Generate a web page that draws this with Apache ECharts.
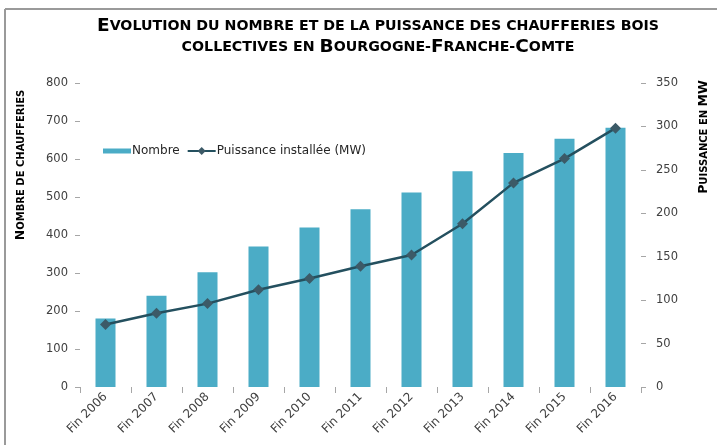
<!DOCTYPE html>
<html>
<head>
<meta charset="utf-8">
<script src="https://cdn.jsdelivr.net/npm/echarts@6/dist/echarts.min.js"></script>
<style>
    html, body { margin: 0; padding: 0; background: #fff; }
    #chart { width: 717px; height: 445px; }
</style>
</head>
<body>
<div id="chart"></div>
<script>
var categories = ["Fin 2006", "Fin 2007", "Fin 2008", "Fin 2009", "Fin 2010", "Fin 2011", "Fin 2012", "Fin 2013", "Fin 2014", "Fin 2015", "Fin 2016"];
var nombre = [180, 240, 302, 370, 420, 468, 512, 568, 616, 653, 682];
var puissance = [72, 85, 96, 112, 125, 139, 152, 188, 235, 263, 298];

var leftTicks = { min: 0, max: 800, interval: 100 };
var rightTicks = { min: 0, max: 350, interval: 50 };

var font = "'DejaVu Sans', 'Liberation Sans', Arial, sans-serif";

// small caps, built from rich text: {b|} = capital, {s|} = small
var titleRich = {
    b: { fontFamily: font, fontWeight: "bold", fontSize: 18.5, lineHeight: 21, color: "#1a1a1a" },
    s: { fontFamily: font, fontWeight: "bold", fontSize: 14.2, lineHeight: 21, color: "#1a1a1a" }
};
var nameRich = {
    b: { fontFamily: font, fontWeight: "bold", fontSize: 12.5, color: "#1a1a1a" },
    s: { fontFamily: font, fontWeight: "bold", fontSize: 10, color: "#1a1a1a" }
};

var chart = echarts.init(document.getElementById("chart"));

var option = {
    animation: false,
    backgroundColor: "#fff",
    textStyle: { fontFamily: font },
    grid: { left: 80, right: 76, top: 83, bottom: 58 },
    legend: {
        left: 98,
        top: 140,
        itemGap: 7,
        itemWidth: 28,
        itemHeight: 10,
        textStyle: { fontFamily: font, fontSize: 12, color: "#262626", padding: [0, 0, 0, -4] },
        data: [
            { name: "Nombre", icon: "path://M0,0L28,0L28,5L0,5Z" },
            { name: "Puissance installée (MW)" }
        ]
    },
    xAxis: {
        type: "category",
        data: categories,
        axisLine: { show: false },
        axisTick: { show: true, length: 6, lineStyle: { color: "#a6a6a6" } },
        axisLabel: { rotate: 45, margin: 8, fontSize: 12, color: "#404040", interval: 0 }
    },
    yAxis: [
        {
            type: "value",
            min: leftTicks.min, max: leftTicks.max, interval: leftTicks.interval,
            splitLine: { show: false },
            axisLine: { show: false },
            axisTick: { show: true, length: 5, lineStyle: { color: "#a6a6a6" } },
            axisLabel: { margin: 12, fontSize: 11.5, color: "#404040" }
        },
        {
            type: "value",
            position: "right",
            min: rightTicks.min, max: rightTicks.max, interval: rightTicks.interval,
            splitLine: { show: false },
            axisLine: { show: false },
            axisTick: { show: true, length: 5, lineStyle: { color: "#a6a6a6" } },
            axisLabel: { margin: 15, fontSize: 11.5, color: "#404040" }
        }
    ],
    series: [
        {
            name: "Nombre",
            type: "bar",
            yAxisIndex: 0,
            barWidth: 20,
            itemStyle: { color: "#4bacc6" },
            data: nombre
        },
        {
            name: "Puissance installée (MW)",
            type: "line",
            yAxisIndex: 1,
            symbol: "diamond",
            symbolSize: 11,
            lineStyle: { color: "#24505f", width: 2.5 },
            itemStyle: { color: "#3c5a67" },
            data: puissance
        }
    ],
    graphic: [
        // frame
        { type: "line", shape: { x1: 5, y1: 9, x2: 717, y2: 9 }, style: { stroke: "#9a9a9a", lineWidth: 2 } },
        { type: "line", shape: { x1: 5, y1: 9, x2: 5, y2: 445 }, style: { stroke: "#9a9a9a", lineWidth: 2 } },
        {
            type: "text",
            x: 378, y: 37,
            style: {
                text: "{b|E}{s|VOLUTION DU NOMBRE ET DE LA PUISSANCE DES CHAUFFERIES BOIS}\n{s|COLLECTIVES EN }{b|B}{s|OURGOGNE-}{b|F}{s|RANCHE-}{b|C}{s|OMTE}",
                align: "center",
                verticalAlign: "middle",
                rich: titleRich
            }
        },
        {
            type: "text",
            x: 21, y: 165,
            rotation: Math.PI / 2,
            style: {
                text: "{b|N}{s|OMBRE DE CHAUFFERIES}",
                align: "center",
                verticalAlign: "middle",
                rich: nameRich
            }
        },
        {
            type: "text",
            x: 704, y: 137,
            rotation: Math.PI / 2,
            style: {
                text: "{b|P}{s|UISSANCE EN }{b|MW}",
                align: "center",
                verticalAlign: "middle",
                rich: nameRich
            }
        }
    ]
};

chart.setOption(option);
</script>
</body>
</html>
